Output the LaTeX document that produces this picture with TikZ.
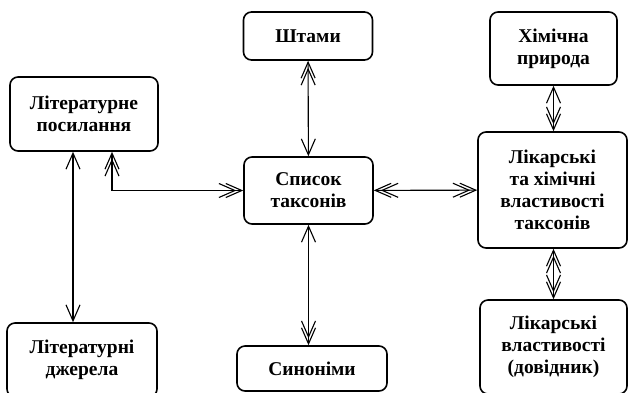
\documentclass[tikz,border=0pt]{standalone}
\usepackage{fontspec}
\setmainfont{Liberation Serif}
\usetikzlibrary{arrows.meta}
\tikzset{
	blk/.style={draw,line width=1.6pt,rounded corners=8pt,align=center,inner sep=0pt,
		font=\bfseries\fontsize{19.5}{22}\selectfont},
	vv/.tip={Straight Barb[length=16pt,width=14pt,sep=-11pt] Straight Barb[length=16pt,width=14pt]},
}
\begin{document}
\begin{tikzpicture}[x=1pt,y=-1pt,>={Straight Barb[length=16pt,width=14pt]},line width=1.1pt]
	\useasboundingbox (0,0) rectangle (628,392);
	% boxes
	\node[blk,minimum width=129pt,minimum height=48pt] (shtamy) at (308,36) {Штами};
	\node[blk,minimum width=129pt,minimum height=67pt] (spysok) at (308.5,190.5) {Список\\таксонів};
	\node[blk,minimum width=150pt,minimum height=45pt] (synonimy) at (312,368.5) {Синоніми};
	\node[blk,minimum width=148pt,minimum height=74pt] (posyl) at (84,114) {Літературне\\посилання};
	\node[blk,minimum width=150pt,minimum height=74pt] (dzherela) at (82,360) {Літературні\\джерела};
	\node[blk,minimum width=127pt,minimum height=73pt] (khim) at (553.5,48.5) {Хімічна\\природа};
	\node[blk,minimum width=149pt,minimum height=116pt] (likarski) at (552.5,190) {Лікарські\\та хімічні\\властивості\\таксонів};
	\node[blk,minimum width=147pt,minimum height=94pt] (dovidnyk) at (553.5,347) {Лікарські\\властивості\\(довідник)};
	% links
	\draw[{vv}->] (shtamy) -- (spysok);
	\draw[<-{vv}] (spysok) -- (spysok |- synonimy.north);
	\draw[<->] ([xshift=-11pt]posyl.south) -- ([xshift=-11pt]posyl.south |- dzherela.north);
	\draw[{vv}-{vv}] ([xshift=28pt]posyl.south) |- (spysok);
	\draw[{vv}-{vv}] (spysok) -- (likarski);
	\draw[<-{vv}] (khim) -- (khim |- likarski.north);
	\draw[{vv}-{vv}] (khim |- likarski.south) -- (khim |- dovidnyk.north);
\end{tikzpicture}
\end{document}
